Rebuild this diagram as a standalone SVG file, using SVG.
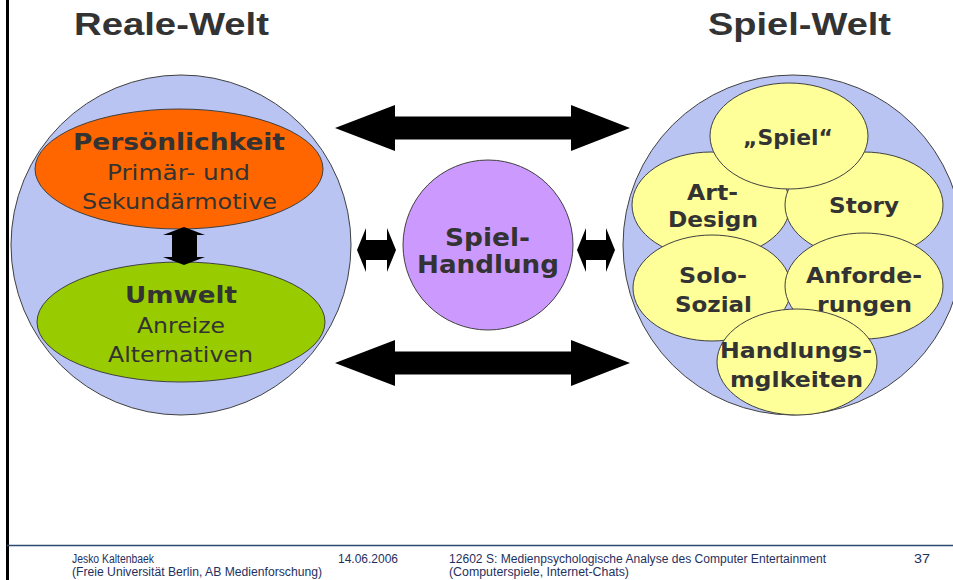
<svg xmlns="http://www.w3.org/2000/svg" width="953" height="580" viewBox="0 0 953 580">
<style>
.world{fill:#b9c4f2;stroke:#404040;stroke-width:1}
.node{stroke:#404040;stroke-width:1}
.yel{fill:#ffff99;stroke:#404040;stroke-width:1}
.t{font-family:"DejaVu Sans",Verdana,sans-serif;fill:#333333;text-anchor:middle}
.b{font-weight:bold}
.title{font-family:"Liberation Sans",Arial,sans-serif;font-weight:bold;font-size:31px;fill:#333333}
.foot{font-family:"Liberation Sans",Arial,sans-serif;font-size:12px;fill:#1f3060}
.arrow{fill:#000000}
</style>
<rect x="0" y="0" width="953" height="580" fill="#ffffff"/>
<line x1="7.5" y1="0" x2="7.5" y2="580" stroke="#000000" stroke-width="3"/>
<line x1="7" y1="545.5" x2="953" y2="545.5" stroke="#2e4a6e" stroke-width="1.5"/>

<text class="title" x="74" y="35" textLength="195" lengthAdjust="spacingAndGlyphs">Reale-Welt</text>
<text class="title" x="708" y="35" textLength="183" lengthAdjust="spacingAndGlyphs">Spiel-Welt</text>

<g id="reale-welt">
  <circle class="world" cx="181" cy="245" r="170"/>
</g>
<g id="persoenlichkeit">
  <ellipse class="node" cx="179" cy="169" rx="144" ry="60" fill="#ff6600"/>
  <text class="t b" x="179" y="150" font-size="23" textLength="212" lengthAdjust="spacingAndGlyphs">Persönlichkeit</text>
  <text class="t" x="178.5" y="180" font-size="21" textLength="143" lengthAdjust="spacingAndGlyphs">Primär- und</text>
  <text class="t" x="179.5" y="209" font-size="21" textLength="195" lengthAdjust="spacingAndGlyphs">Sekundärmotive</text>
</g>
<g id="umwelt">
  <ellipse class="node" cx="181" cy="322" rx="144" ry="60" fill="#99cc00"/>
  <text class="t b" x="181" y="303" font-size="23" textLength="112" lengthAdjust="spacingAndGlyphs">Umwelt</text>
  <text class="t" x="181" y="333" font-size="21" textLength="88" lengthAdjust="spacingAndGlyphs">Anreize</text>
  <text class="t" x="180.5" y="362" font-size="21" textLength="145" lengthAdjust="spacingAndGlyphs">Alternativen</text>
</g>

<g id="spiel-handlung">
  <circle class="node" cx="488" cy="245" r="85" fill="#cc99ff"/>
  <text class="t b" x="487.5" y="246" font-size="24" textLength="85" lengthAdjust="spacingAndGlyphs">Spiel-</text>
  <text class="t b" x="488" y="273" font-size="24" textLength="142" lengthAdjust="spacingAndGlyphs">Handlung</text>
</g>

<g id="spiel-welt">
  <circle class="world" cx="793" cy="245" r="170"/>
</g>
<g id="art-design">
  <ellipse class="yel" cx="711" cy="205" rx="79" ry="53"/>
  <text class="t b" x="712.5" y="200" font-size="22" textLength="51" lengthAdjust="spacingAndGlyphs">Art-</text>
  <text class="t b" x="713" y="227" font-size="22" textLength="90" lengthAdjust="spacingAndGlyphs">Design</text>
</g>
<g id="story">
  <ellipse class="yel" cx="864" cy="205" rx="79" ry="53"/>
  <text class="t b" x="864" y="213" font-size="22" textLength="70" lengthAdjust="spacingAndGlyphs">Story</text>
</g>
<g id="spiel">
  <ellipse class="yel" cx="789" cy="136" rx="79" ry="53"/>
  <text class="t b" x="788" y="145" font-size="22" textLength="90" lengthAdjust="spacingAndGlyphs">„Spiel“</text>
</g>
<g id="solo-sozial">
  <ellipse class="yel" cx="712" cy="288" rx="79" ry="53"/>
  <text class="t b" x="713" y="283" font-size="22" textLength="68" lengthAdjust="spacingAndGlyphs">Solo-</text>
  <text class="t b" x="713.5" y="312" font-size="22" textLength="77" lengthAdjust="spacingAndGlyphs">Sozial</text>
</g>
<g id="anforderungen">
  <ellipse class="yel" cx="864" cy="286" rx="79" ry="53"/>
  <text class="t b" x="864" y="283" font-size="22" textLength="116" lengthAdjust="spacingAndGlyphs">Anforde-</text>
  <text class="t b" x="864.5" y="312" font-size="22" textLength="95" lengthAdjust="spacingAndGlyphs">rungen</text>
</g>
<g id="handlungsmoeglichkeiten">
  <ellipse class="yel" cx="797" cy="362" rx="80" ry="53"/>
  <text class="t b" x="796" y="358" font-size="22" textLength="152" lengthAdjust="spacingAndGlyphs">Handlungs-</text>
  <text class="t b" x="796.5" y="387" font-size="22" textLength="133" lengthAdjust="spacingAndGlyphs">mglkeiten</text>
</g>

<g id="connectors">
  <polygon class="arrow" points="335,128 395,105 395,116.5 571,116.5 571,105 630,128 571,151 571,139.5 395,139.5 395,151"/>
  <polygon class="arrow" points="335,363 395,340 395,351.5 571,351.5 571,340 630,363 571,386 571,374.5 395,374.5 395,386"/>
  <polygon class="arrow" points="357,250 366,228 366,240 387,240 387,228 396,250 387,272 387,260 366,260 366,272"/>
  <polygon class="arrow" points="577,250 586,228 586,240 606,240 606,228 615,250 606,272 606,260 586,260 586,272"/>
  <polygon class="arrow" points="184,227 205,235 197,235 197,257 205,257 184,265 163,257 172,257 172,235 163,235"/>
</g>

<g id="footer">
  <text class="foot" x="72" y="563" textLength="82" lengthAdjust="spacingAndGlyphs">Jesko Kaltenbaek</text>
  <text class="foot" x="72" y="576" textLength="250" lengthAdjust="spacingAndGlyphs">(Freie Universität Berlin, AB Medienforschung)</text>
  <text class="foot" x="338" y="563" textLength="60" lengthAdjust="spacingAndGlyphs">14.06.2006</text>
  <text class="foot" x="449" y="563" textLength="377" lengthAdjust="spacingAndGlyphs">12602 S: Medienpsychologische Analyse des Computer Entertainment</text>
  <text class="foot" x="449" y="576" textLength="180" lengthAdjust="spacingAndGlyphs">(Computerspiele, Internet-Chats)</text>
  <text class="foot" x="914" y="563" textLength="16" lengthAdjust="spacingAndGlyphs">37</text>
</g>
</svg>
